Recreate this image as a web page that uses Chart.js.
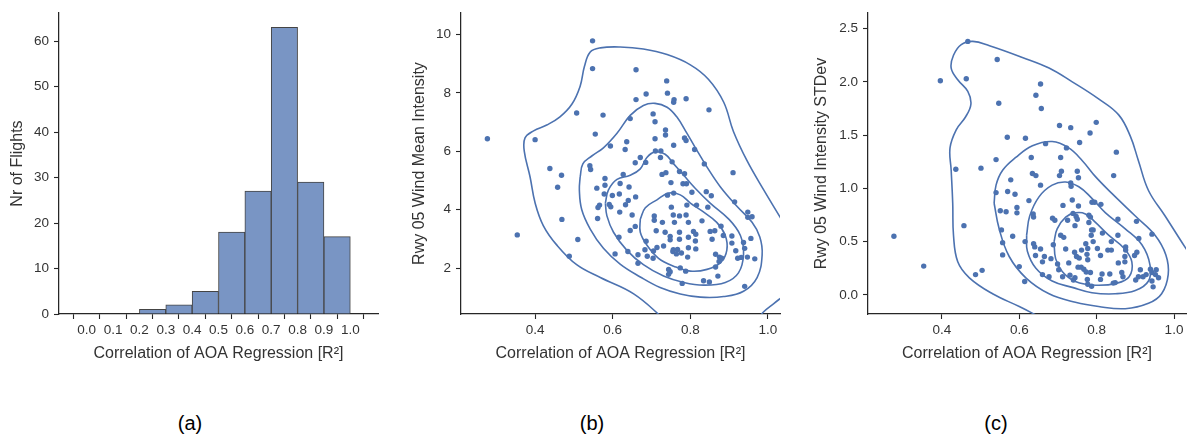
<!DOCTYPE html>
<html lang="en">
<head>
<meta charset="UTF-8">
<title>AOA regression correlation and runway 05 wind</title>
<script src="https://cdn.jsdelivr.net/npm/chart.js"></script>
<style>
  body { margin: 0; background: #fff; width: 1190px; height: 443px; overflow: hidden; position: relative;
         font-family: "Liberation Sans", Arial, sans-serif; }
  .panel { position: absolute; top: 0; }
  .tag { position: absolute; top: 412px; font-size: 20px; color: #000; transform: translateX(-50%); }
</style>
</head>
<body>
<div class="panel" style="left:0"><canvas id="histChart" width="395" height="380"></canvas></div>
<div class="panel" style="left:400px"><canvas id="meanChart" width="390" height="380"></canvas></div>
<div class="panel" style="left:800px"><canvas id="stdChart" width="390" height="380"></canvas></div>
<div class="tag" style="left:190px">(a)</div>
<div class="tag" style="left:592px">(b)</div>
<div class="tag" style="left:996px">(c)</div>

<script>
// (a) histogram of R^2
const binCentres = [0.05, 0.15, 0.25, 0.35, 0.45, 0.55, 0.65, 0.75, 0.85, 0.95];
const flightCounts = [0, 0, 1, 2, 5, 18, 27, 63, 29, 17];
const histXTicks = [0, 0.1, 0.2, 0.3, 0.4, 0.5, 0.6, 0.7, 0.8, 0.9, 1.0];
const histXLabels = ['0.0', '0.1', '0.2', '0.3', '0.4', '0.5', '0.6', '0.7', '0.8', '0.9', '1.0'];
const histYTicks = [0, 10, 20, 30, 40, 50, 60];
const histYLabels = ['0', '10', '20', '30', '40', '50', '60'];

// (b) R^2 vs mean wind intensity
const r2Mean = [
  0.548,0.548,0.660,0.739,0.741,0.686,0.660,0.758,0.757,0.789,
  0.507,0.575,0.848,0.704,0.645,0.709,0.555,0.736,0.736,0.277,
  0.400,0.709,0.785,0.789,0.594,0.636,0.632,0.757,0.811,0.710,
  0.724,0.723,0.671,0.685,0.658,0.753,0.836,0.541,0.543,0.438,
  0.580,0.468,0.627,0.727,0.737,0.772,0.785,0.910,0.458,0.559,
  0.580,0.619,0.642,0.750,0.781,0.790,0.578,0.599,0.617,0.659,
  0.757,0.741,0.804,0.841,0.854,0.640,0.633,0.566,0.591,0.595,
  0.562,0.791,0.816,0.845,0.914,0.751,0.469,0.561,0.618,0.650,
  0.707,0.707,0.756,0.772,0.789,0.948,0.959,0.948,0.354,0.712,
  0.728,0.759,0.795,0.830,0.645,0.658,0.808,0.814,0.851,0.863,
  0.879,0.856,0.510,0.616,0.748,0.748,0.772,0.795,0.813,0.885,
  0.907,0.956,0.686,0.907,0.937,0.639,0.606,0.683,0.714,0.731,
  0.756,0.767,0.795,0.814,0.755,0.777,0.764,0.705,0.940,0.917,
  0.488,0.665,0.689,0.704,0.793,0.865,0.875,0.881,0.922,0.931,
  0.947,0.966,0.874,0.665,0.774,0.744,0.748,0.788,0.865,0.871,
  0.779,0.834,0.849,0.940,0.744,0.772,0.735
];
const windMean = [
  9.78,8.83,8.79,8.41,7.99,7.96,7.77,7.77,7.68,7.80,
  7.31,7.24,7.42,7.28,7.12,7.01,6.59,6.73,6.56,6.43,
  6.40,6.43,6.46,6.37,6.18,6.33,6.06,6.21,6.06,6.01,
  6.01,5.79,5.79,5.62,5.61,5.64,5.57,5.51,5.38,5.41,
  5.07,5.18,5.21,5.21,5.27,5.31,5.23,5.27,4.77,4.74,
  4.84,4.90,4.78,4.93,4.89,4.89,4.54,4.49,4.54,4.44,
  4.57,4.50,4.60,4.62,4.48,4.32,4.17,4.16,4.18,4.10,
  4.08,4.16,4.16,4.09,4.27,4.09,3.67,3.70,3.92,3.82,
  3.79,3.64,3.82,3.79,3.82,3.74,3.76,3.92,3.14,3.28,
  3.57,3.57,3.57,3.62,3.29,3.43,3.26,3.16,3.26,3.28,
  3.44,2.99,2.98,3.06,3.09,2.97,2.99,3.06,2.93,3.12,
  3.10,3.02,2.92,2.86,2.88,2.57,2.49,2.63,2.71,2.76,
  2.63,2.64,2.70,2.66,2.57,2.52,2.49,2.59,2.68,2.60,
  2.41,2.46,2.41,2.34,2.38,2.48,2.38,2.34,2.34,2.37,
  2.38,2.32,2.23,2.17,2.01,1.96,1.88,1.90,2.04,1.73,
  1.48,1.57,1.53,1.38,1.79,3.23,3.23
];
// density contours, [R^2, intensity]
const meanLevel1a = [[0.735,0.23],[0.654,1.12],[0.568,1.68],[0.507,2.12],[0.456,2.79],[0.421,3.46],[0.400,4.23],
  [0.387,5.12],[0.372,6.01],[0.374,6.46],[0.396,6.70],[0.430,6.90],[0.464,7.18],[0.495,7.62],[0.516,8.23],
  [0.527,8.90],[0.542,9.40],[0.568,9.54],[0.619,9.57],[0.679,9.50],[0.740,9.31],[0.800,8.96],[0.847,8.46],
  [0.886,7.68],[0.911,6.68],[0.946,5.68],[0.989,4.68],[1.032,3.73],[1.049,3.34]];
const meanLevel1b = [[0.972,0.23],[0.989,0.51],[1.015,0.79],[1.036,1.01]];
const meanLevel2 = [[0.516,5.12],[0.523,5.57],[0.546,5.84],[0.576,6.12],[0.611,6.62],[0.645,7.23],[0.679,7.57],
  [0.709,7.64],[0.740,7.51],[0.765,7.18],[0.791,6.62],[0.813,6.12],[0.843,5.46],[0.877,4.79],[0.920,4.12],
  [0.959,3.57],[0.979,3.07],[0.985,2.46],[0.972,1.68],[0.937,1.21],[0.886,1.03],[0.826,1.01],[0.774,1.12],
  [0.722,1.34],[0.671,1.70],[0.619,2.14],[0.576,2.68],[0.542,3.34],[0.520,4.01],[0.514,4.68],[0.516,5.12]];
const meanLevel3 = [[0.581,4.23],[0.589,4.68],[0.611,5.04],[0.645,5.18],[0.671,5.40],[0.688,5.79],[0.709,5.98],
  [0.735,5.90],[0.757,5.57],[0.783,5.18],[0.813,4.73],[0.851,4.23],[0.899,3.68],[0.929,3.12],[0.937,2.46],
  [0.924,1.84],[0.890,1.51],[0.834,1.42],[0.783,1.51],[0.731,1.73],[0.679,2.12],[0.636,2.62],[0.602,3.23],
  [0.585,3.79],[0.581,4.23]];
const meanLevel4 = [[0.671,3.68],[0.684,4.07],[0.714,4.34],[0.744,4.57],[0.774,4.51],[0.800,4.23],[0.830,3.96],
  [0.868,3.57],[0.890,3.12],[0.894,2.62],[0.879,2.21],[0.843,1.96],[0.800,1.90],[0.757,2.07],[0.718,2.34],
  [0.688,2.79],[0.671,3.23],[0.671,3.68]];
const scatterXTicks = [0.4, 0.6, 0.8, 1.0];
const scatterXLabels = ['0.4', '0.6', '0.8', '1.0'];
const meanYTicks = [2, 4, 6, 8, 10];
const meanYLabels = ['2', '4', '6', '8', '10'];

// (c) R^2 vs wind intensity standard deviation
const r2Std = [
  0.467,0.543,0.396,0.463,0.655,0.643,0.547,0.657,0.799,0.704,
  0.733,0.783,0.569,0.616,0.668,0.756,0.722,0.851,0.631,0.540,
  0.707,0.436,0.501,0.709,0.750,0.634,0.643,0.704,0.753,0.844,
  0.578,0.655,0.733,0.734,0.540,0.570,0.589,0.625,0.737,0.788,
  0.795,0.811,0.713,0.753,0.594,0.551,0.566,0.594,0.636,0.637,
  0.739,0.747,0.780,0.784,0.686,0.692,0.725,0.750,0.780,0.855,
  0.903,0.457,0.744,0.554,0.787,0.791,0.815,0.943,0.583,0.707,
  0.715,0.786,0.855,0.276,0.557,0.615,0.637,0.772,0.791,0.838,
  0.909,0.688,0.720,0.777,0.802,0.829,0.838,0.875,0.875,0.743,
  0.761,0.904,0.640,0.655,0.557,0.642,0.665,0.748,0.755,0.775,
  0.810,0.873,0.898,0.353,0.682,0.728,0.777,0.660,0.699,0.856,
  0.873,0.600,0.760,0.767,0.504,0.487,0.702,0.752,0.773,0.784,
  0.814,0.834,0.865,0.868,0.913,0.939,0.954,0.943,0.928,0.952,
  0.960,0.660,0.677,0.731,0.744,0.740,0.776,0.810,0.843,0.614,
  0.777,0.787,0.901,0.943,0.946,0.908,0.920,0.712,0.848
];
const windStd = [
  2.38,2.21,2.01,2.03,1.98,1.875,1.80,1.75,1.62,1.59,
  1.57,1.52,1.48,1.47,1.42,1.43,1.38,1.34,1.29,1.27,
  1.29,1.18,1.19,1.16,1.16,1.14,1.12,1.12,1.10,1.12,
  1.08,1.03,1.05,1.02,0.96,0.97,0.945,0.885,0.89,0.87,
  0.87,0.85,0.84,0.835,0.82,0.79,0.78,0.77,0.76,0.73,
  0.765,0.735,0.747,0.73,0.72,0.70,0.70,0.71,0.68,0.71,
  0.69,0.65,0.65,0.61,0.61,0.61,0.58,0.57,0.55,0.56,
  0.54,0.56,0.56,0.55,0.49,0.50,0.48,0.48,0.50,0.50,
  0.53,0.47,0.43,0.435,0.435,0.42,0.42,0.45,0.42,0.40,
  0.42,0.40,0.45,0.43,0.375,0.37,0.36,0.36,0.345,0.38,
  0.37,0.36,0.37,0.27,0.34,0.30,0.33,0.31,0.29,0.30,
  0.31,0.265,0.26,0.24,0.23,0.19,0.235,0.26,0.215,0.21,
  0.195,0.195,0.21,0.17,0.235,0.24,0.235,0.21,0.19,0.19,
  0.16,0.19,0.17,0.185,0.16,0.14,0.145,0.145,0.11,0.125,
  0.10,0.08,0.14,0.13,0.075,0.17,0.17,0.17,0.115
];
const stdLevel1 = [[0.651,-0.204],[0.600,-0.11],[0.531,0.01],[0.471,0.16],[0.441,0.31],[0.430,0.56],[0.428,0.86],
  [0.424,1.17],[0.421,1.38],[0.437,1.55],[0.461,1.67],[0.475,1.79],[0.467,1.91],[0.441,2.02],[0.424,2.13],
  [0.430,2.25],[0.450,2.35],[0.480,2.38],[0.523,2.34],[0.608,2.23],[0.677,2.13],[0.737,2.00],[0.805,1.84],
  [0.857,1.69],[0.887,1.49],[0.908,1.26],[0.934,0.98],[0.977,0.74],[1.028,0.45],[1.045,0.36]];
const stdLevel2 = [[0.535,0.86],[0.540,1.03],[0.557,1.17],[0.591,1.29],[0.634,1.40],[0.685,1.44],[0.728,1.38],
  [0.763,1.26],[0.797,1.11],[0.840,0.95],[0.900,0.74],[0.951,0.56],[0.979,0.375],[0.985,0.19],[0.968,0.01],
  [0.934,-0.08],[0.874,-0.13],[0.805,-0.11],[0.745,-0.07],[0.677,0.01],[0.617,0.16],[0.574,0.36],[0.548,0.62],
  [0.535,0.86]];
const stdLevel3 = [[0.619,0.56],[0.627,0.74],[0.651,0.92],[0.685,1.03],[0.720,1.06],[0.754,1.015],[0.784,0.92],
  [0.823,0.77],[0.874,0.62],[0.917,0.47],[0.938,0.28],[0.934,0.13],[0.900,0.04],[0.848,0.01],[0.788,0.02],
  [0.737,0.07],[0.685,0.13],[0.643,0.25],[0.621,0.41],[0.619,0.56]];
const stdLevel4 = [[0.690,0.50],[0.698,0.62],[0.720,0.73],[0.745,0.77],[0.771,0.76],[0.797,0.68],[0.831,0.56],
  [0.870,0.44],[0.891,0.31],[0.884,0.17],[0.853,0.11],[0.797,0.09],[0.745,0.125],[0.711,0.22],[0.694,0.34],
  [0.690,0.50]];
const stdYTicks = [0, 0.5, 1.0, 1.5, 2.0, 2.5];
const stdYLabels = ['0.0', '0.5', '1.0', '1.5', '2.0', '2.5'];

const xTitle = 'Correlation of AOA Regression [R²]';
const ink = '#262626';
const blue = '#4c72b0';
const fam = '"Liberation Sans", Arial, sans-serif';

function axis(o) {
  return {
    type: 'linear',
    min: o.min,
    max: o.max,
    afterBuildTicks: s => { s.ticks = o.ticks.map(v => ({ value: v })); },
    afterFit: s => { if (o.horizontal) s.height = o.size; else s.width = o.size; },
    ticks: {
      autoSkip: false, maxRotation: 0, color: '#333',
      padding: o.horizontal ? 3 : 5,
      font: { family: fam, size: 13.5 },
      callback: (v, i) => o.labels[i]
    },
    grid: { drawOnChartArea: false, drawTicks: true, tickLength: 5, tickWidth: 1.1, tickColor: ink },
    border: { display: true, color: ink, width: 1.25 },
    title: {
      display: true, text: o.title, color: '#333',
      font: { family: fam, size: 16 },
      padding: o.horizontal ? { top: 4, bottom: 17 } : { top: o.titlePad, bottom: 4 }
    }
  };
}

const common = {
  responsive: false,
  animation: false,
  events: [],
  plugins: { legend: { display: false }, tooltip: { enabled: false } }
};

new Chart(document.getElementById('histChart'), {
  type: 'bar',
  data: {
    datasets: [{
      data: binCentres.map((x, i) => ({ x: x, y: flightCounts[i] })),
      backgroundColor: 'rgb(121,149,196)',
      borderColor: '#444',
      borderWidth: 1,
      barPercentage: 1,
      categoryPercentage: 1
    }]
  },
  options: Object.assign({}, common, {
    layout: { padding: { left: 0, top: 5, right: 17, bottom: 0 } },
    scales: {
      x: axis({ min: -0.05, max: 1.05, ticks: histXTicks, labels: histXLabels, horizontal: true, size: 66, title: xTitle }),
      y: axis({ min: 0, max: 66.15, ticks: histYTicks, labels: histYLabels, size: 59, title: 'Nr of Flights', titlePad: 8 })
    }
  })
});

function contour(pts) {
  return {
    data: pts.map(p => ({ x: p[0], y: p[1] })),
    showLine: true, pointRadius: 0, borderColor: blue, borderWidth: 1.6, tension: 0.4, fill: false
  };
}

function scatterPanel(id, xs, ys, levels, yMin, yMax, yTicks, yLabels, yTitle, ySize, titlePad, rightPad) {
  const datasets = levels.map(contour);
  datasets.push({
    data: xs.map((x, i) => ({ x: x, y: ys[i] })),
    pointRadius: 2.7, pointBackgroundColor: blue, pointBorderWidth: 0, showLine: false
  });
  new Chart(document.getElementById(id), {
    type: 'scatter',
    data: { datasets: datasets },
    options: Object.assign({}, common, {
      layout: { padding: { left: 0, top: 5, right: rightPad, bottom: 0 } },
      scales: {
        x: axis({ min: 0.209, max: 1.031, ticks: scatterXTicks, labels: scatterXLabels, horizontal: true, size: 66, title: xTitle }),
        y: axis({ min: yMin, max: yMax, ticks: yTicks, labels: yLabels, size: ySize, title: yTitle, titlePad: titlePad })
      }
    })
  });
}

scatterPanel('meanChart', r2Mean, windMean, [meanLevel1a, meanLevel1b, meanLevel2, meanLevel3, meanLevel4],
  0.433, 10.73, meanYTicks, meanYLabels, 'Rwy 05 Wind Mean Intensity', 61, 10, 10);
scatterPanel('stdChart', r2Std, windStd, [stdLevel1, stdLevel2, stdLevel3, stdLevel4],
  -0.18, 2.646, stdYTicks, stdYLabels, 'Rwy 05 Wind Intensity STDev', 68, 12, 3);
</script>
</body>
</html>
